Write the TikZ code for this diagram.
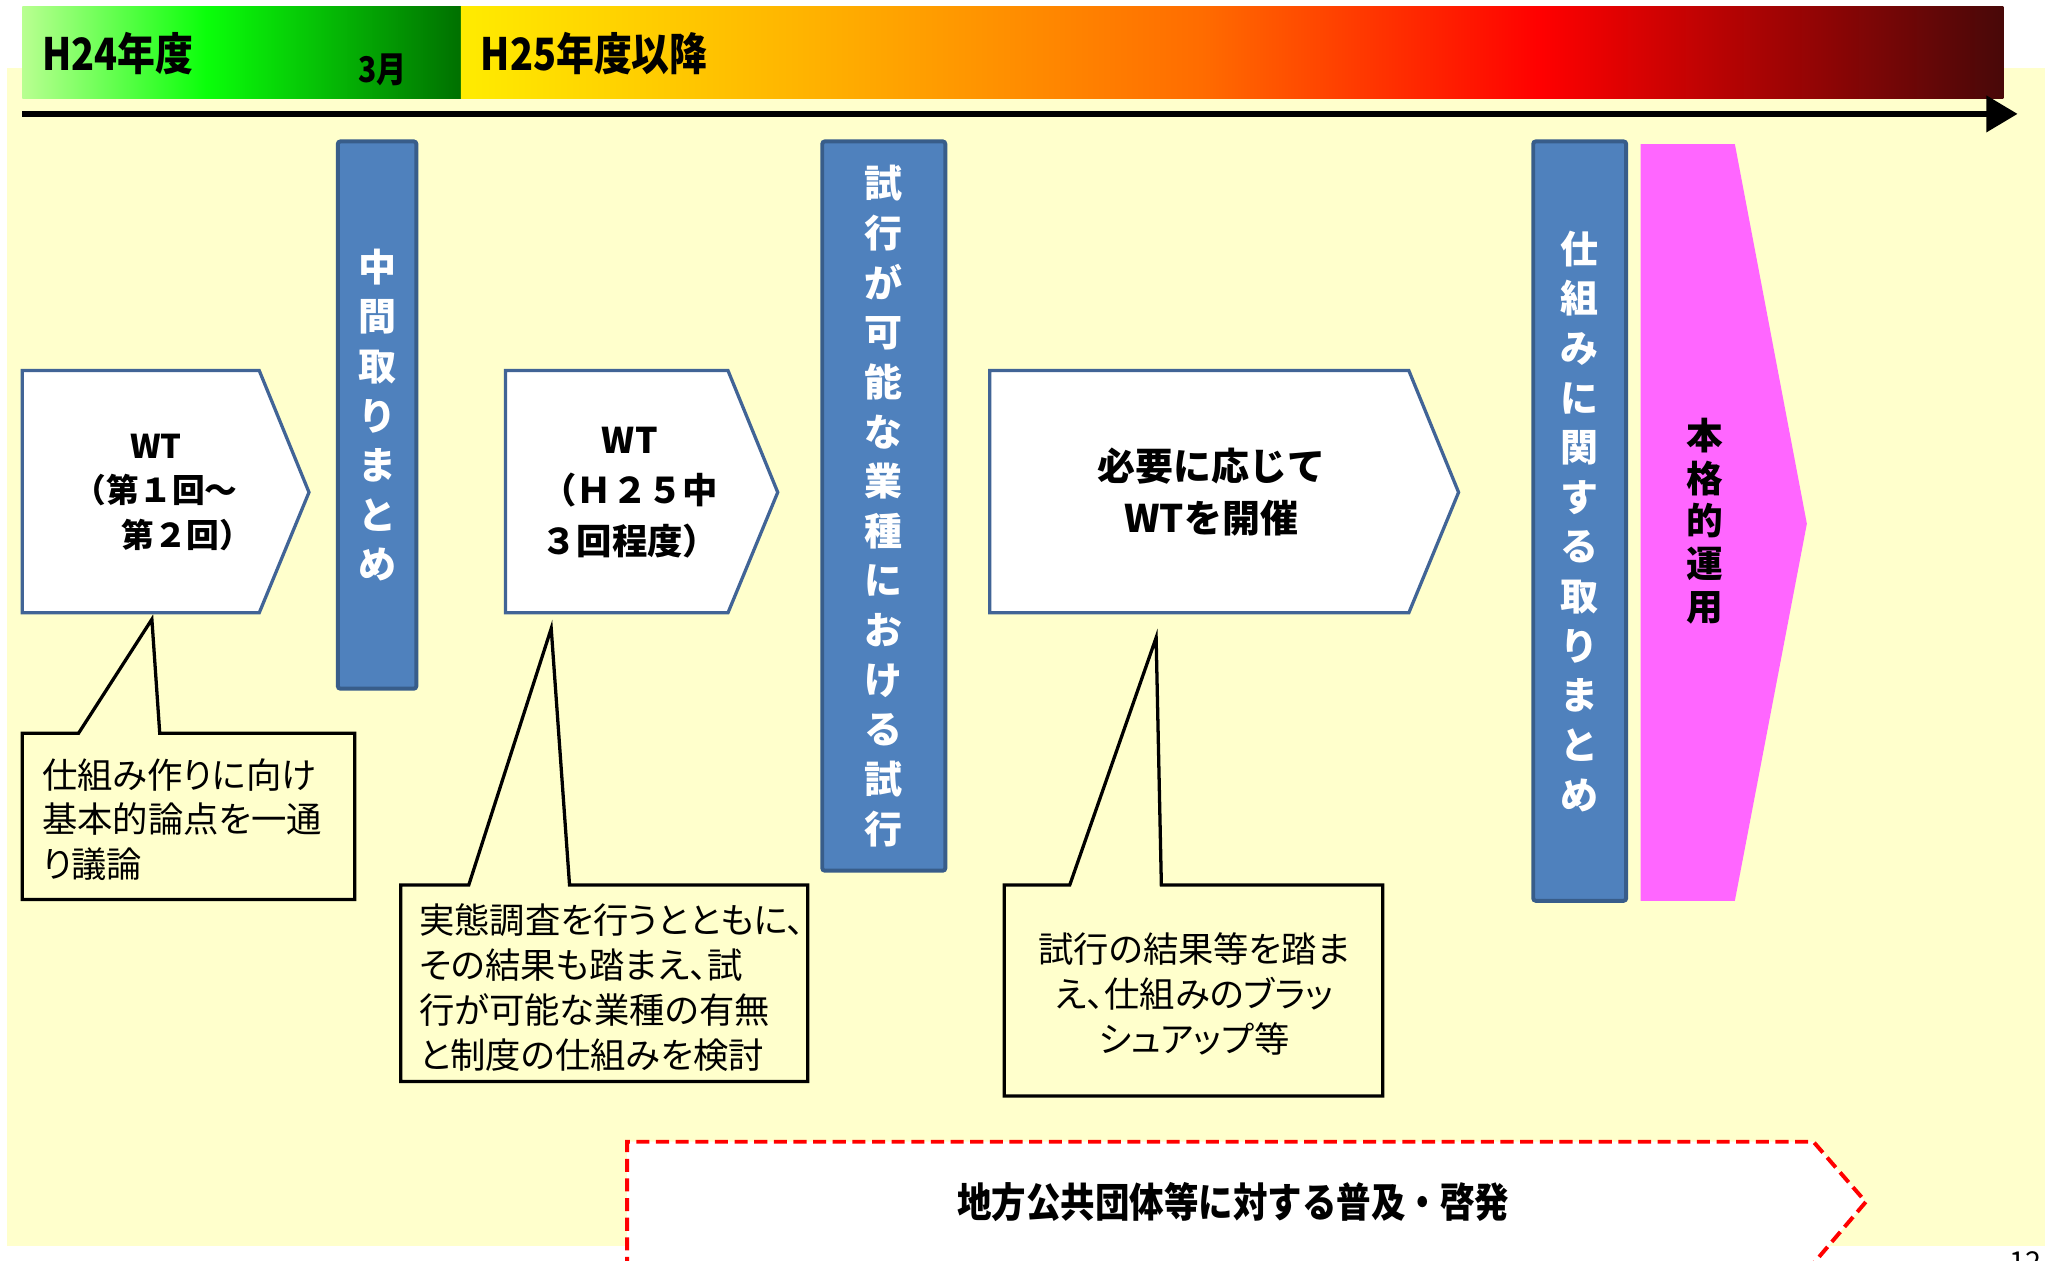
\documentclass[tikz,border=0pt]{standalone}
\usepackage{fontspec}
\usetikzlibrary{arrows.meta}
\newfontfamily\jp{Noto Sans CJK JP}
\newfontfamily\jpp{Noto Sans CJK JP}[RawFeature=+palt]
\newfontfamily\jpc{Noto Sans CJK JP}[FakeStretch=0.85]
\definecolor{bgyellow}{RGB}{255,255,204}
\definecolor{barblue}{RGB}{79,129,189}
\definecolor{barborder}{RGB}{56,93,138}
\definecolor{pentborder}{RGB}{65,100,150}
\definecolor{pinkarrow}{RGB}{255,102,255}
\definecolor{dashred}{RGB}{255,0,0}
\definecolor{gA}{RGB}{185,255,145}
\definecolor{gB}{RGB}{10,255,10}
\definecolor{gC}{RGB}{0,112,0}
\definecolor{rA}{RGB}{255,236,0}
\definecolor{rB}{RGB}{255,180,0}
\definecolor{rC}{RGB}{255,108,0}
\definecolor{rD}{RGB}{255,0,0}
\definecolor{rE}{RGB}{72,8,8}
\pgfdeclarehorizontalshading{greenbar}{100bp}{color(0bp)=(gA); color(25bp)=(gA); color(46bp)=(gB); color(75bp)=(gC); color(100bp)=(gC)}
\pgfdeclarehorizontalshading{redbar}{100bp}{color(0bp)=(rA); color(25bp)=(rA); color(36bp)=(rB); color(49bp)=(rC); color(60bp)=(rD); color(75bp)=(rE); color(100bp)=(rE)}
\begin{document}
\begin{tikzpicture}[x=1pt,y=-1pt,
  bluebar/.style={draw=barborder, line width=3pt, fill=barblue, rounded corners=2pt, inner sep=0pt, align=center, text=white,
    font=\jp\bfseries\fontsize{29pt}{37.9pt}\selectfont},
  wpent/.style={draw=pentborder, line width=2.5pt, fill=white, line join=miter},
  ptext/.style={align=center, inner sep=0pt, text=black},
  callout/.style={draw=black, line width=2.5pt, fill=bgyellow, line join=miter},
  ctext/.style={inner sep=0pt, text=black, font=\jpp\fontsize{27pt}{34.3pt}\selectfont},
  toplabel/.style={inner sep=0pt, text=black, font=\jpc\bfseries\fontsize{34pt}{40pt}\selectfont}
]
\useasboundingbox (0,0) rectangle (1568,963);
\fill[white] (0,0) rectangle (1568,963);
\fill[bgyellow] (5,52) rectangle (1562,952);

% top gradient bar
\shade[shading=greenbar] (17,5) rectangle (352,75);
\shade[shading=redbar] (352,5) rectangle (1530,75);
\node[toplabel, anchor=west] (h24) at (32,41) {H24年度};
\node[toplabel, font=\jpc\bfseries\fontsize{27pt}{32pt}\selectfont] (mar) at (292,53) {3月};
\node[toplabel, anchor=west] (h25) at (367,41) {H25年度以降};

% timeline arrow
\coordinate (tl0) at (17,87);
\coordinate (tl1) at (1541,87);
\draw[line width=5pt, -{Triangle[length=24pt,width=27pt]}] (tl0) -- (tl1);

% blue bars
\node[bluebar, minimum width=60pt, minimum height=418pt] (bar1) at (288,317) {中\\間\\取\\り\\ま\\と\\め};
\node[bluebar, minimum width=94pt, minimum height=557pt] (bar2) at (675,386.5) {試\\行\\が\\可\\能\\な\\業\\種\\に\\お\\け\\る\\試\\行};
\node[bluebar, minimum width=71pt, minimum height=580pt] (bar3) at (1206.5,398) {仕\\組\\み\\に\\関\\す\\る\\取\\り\\ま\\と\\め};

% pink arrow
\fill[pinkarrow] (1253,110) -- (1325,110) -- (1380,400) -- (1325,688) -- (1253,688) -- cycle;
\node[ptext, font=\jp\bfseries\fontsize{28pt}{32.5pt}\selectfont] (honkaku) at (1302,398) {本\\格\\的\\運\\用};

% white pentagons
\draw[wpent] (17,283) -- (198,283) -- (236,376) -- (198,468) -- (17,468) -- cycle;
\node[ptext, font=\jp\bfseries\fontsize{25pt}{34pt}\selectfont] (wt1) at (119,376) {WT\\（第１回～\\\hspace*{1.9em}第２回）};
\draw[wpent] (386,283) -- (556,283) -- (594,376) -- (556,468) -- (386,468) -- cycle;
\node[ptext, font=\jp\bfseries\fontsize{27pt}{38.5pt}\selectfont] (wt2) at (481,376) {WT\\（Ｈ２５中\\３回程度）};
\draw[wpent] (756,283) -- (1076,283) -- (1114,376) -- (1076,468) -- (756,468) -- cycle;
\node[ptext, font=\jp\bfseries\fontsize{29pt}{40pt}\selectfont] (wt3) at (925,376) {必要に応じて\\WTを開催};

% callouts
\draw[callout] (17,560) -- (60,560) -- (116,473) -- (122,560) -- (271,560) -- (271,687) -- (17,687) -- cycle;
\node[ctext, align=left, anchor=west] (c1) at (32,626) {仕組み作りに向け\\基本的論点を一通\\り議論};
\draw[callout] (306,676) -- (358,676) -- (421,480) -- (435,676) -- (617,676) -- (617,826) -- (306,826) -- cycle;
\node[ctext, align=left, anchor=west] (c2) at (320,754) {実態調査を行うとともに、\\その結果も踏まえ、試\\行が可能な業種の有無\\と制度の仕組みを検討};
\draw[callout] (767,676) -- (817,676) -- (883,487) -- (887,676) -- (1056,676) -- (1056,837) -- (767,837) -- cycle;
\node[ctext, align=center] (c3) at (912,759) {試行の結果等を踏ま\\え、仕組みのブラッ\\シュアップ等};

% red dashed arrow (cut by the page edge)
\fill[white] (479,985) -- (479,872) -- (1385,872) -- (1425,918) -- (1368,985) -- cycle;
\draw[dashred, line width=3pt, dash pattern=on 10pt off 5pt] (479,985) -- (479,872) -- (1385,872) -- (1425,918) -- (1368,985);
\node[inner sep=0pt, text=black, font=\jpc\bfseries\fontsize{31pt}{34pt}\selectfont] (fukyu) at (942,918) {地方公共団体等に対する普及・啓発};

% page number (cut by the page edge, as in the reference)
\node[inner sep=0pt, anchor=north, font=\jp\fontsize{22pt}{24pt}\selectfont] (pgno) at (1547,956) {12};
\end{tikzpicture}
\end{document}
